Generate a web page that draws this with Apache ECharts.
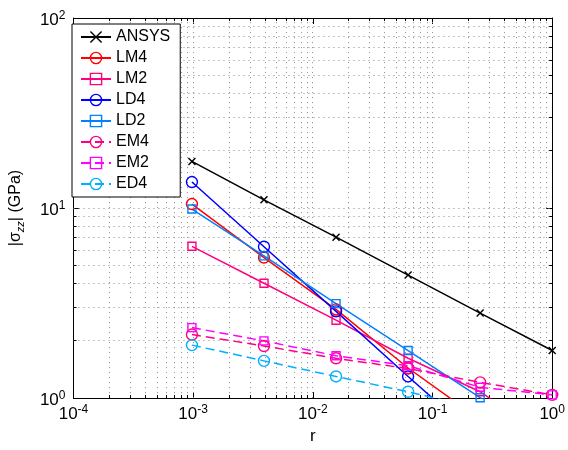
<!DOCTYPE html>
<html>
<head>
<meta charset="utf-8">
<script src="https://cdn.jsdelivr.net/npm/echarts@6/dist/echarts.min.js"></script>
<style>
  html, body { margin: 0; padding: 0; background: #fff; }
  #chart { width: 568px; height: 450px; }
</style>
</head>
<body>
<div id="chart"></div>
<script>
// Radius ratio samples and |sigma_zz| results (GPa) for each model
const r     = [1 / 1024, 1 / 256, 1 / 64, 1 / 16, 1 / 4, 1];
const ansys = [17.6, 11.05, 7.03, 4.44, 2.80, 1.78];
const lm4   = [10.5, 5.49, 2.93, 1.44, 0.77, 0.40];
const lm2   = [6.29, 4.02, 2.57, 1.62, 1.08, 0.60];
const ld4   = [13.7, 6.26, 2.86, 1.30, 0.60, 0.28];
const ld2   = [9.88, 5.60, 3.14, 1.78, 1.005, 0.55];
const em4   = [2.16, 1.88, 1.62, 1.43, 1.21, 1.04];
const em2   = [2.35, 2.00, 1.67, 1.48, 1.14, 1.04];
const ed4   = [1.90, 1.57, 1.30, 1.08, 0.88, 0.72];

// Decade exponents used for the tick labels
const xTickExponents = [-4, -3, -2, -1, 0];
const yTickExponents = [0, 1, 2];

const X_MIN = 1e-4, X_MAX = 1;
const Y_MIN = 1, Y_MAX = 100;
const FONT = '"Liberation Sans", Arial, Helvetica, sans-serif';
const GRID_COLOR = '#8c8c8c';

// Grid positions: every 1..9 x 10^k inside the axis range
function logGridValues(minExp, maxExp) {
  const out = [];
  for (let e = minExp; e < maxExp; e++) {
    for (let m = 1; m <= 9; m++) {
      if (e === minExp && m === 1) continue;
      out.push([Number((m * Math.pow(10, e)).toPrecision(6)), m === 1 ? 1 : 0]);
    }
  }
  return out;
}
const xGrid = logGridValues(xTickExponents[0], xTickExponents[xTickExponents.length - 1]);
const yGrid = logGridValues(yTickExponents[0], yTickExponents[yTickExponents.length - 1]);

function crisp(v) { return Math.round(v - 0.5) + 0.5; }

function powLabel(v) {
  const e = Math.round(Math.log10(v));
  return '{b|10}{s|' + e + '}';
}
const powRich = {
  b: { fontSize: 17, fontFamily: FONT, color: '#000', lineHeight: 17, padding: [4, 0, 0, 0] },
  s: { fontSize: 12, fontFamily: FONT, color: '#000', lineHeight: 12, verticalAlign: 'top' }
};

function xGridItem(params, api) {
  const v = api.value(0), major = api.value(2);
  const b = api.coord([v, Y_MIN]), t = api.coord([v, Y_MAX]);
  const x = crisp(b[0]);
  const children = [{
    type: 'line', silent: true,
    shape: { x1: x, y1: b[1], x2: x, y2: t[1] },
    style: { stroke: GRID_COLOR, lineWidth: 1, lineDash: [1, 4] }
  }];
  if (!major) {
    children.push({ type: 'line', silent: true, shape: { x1: x, y1: b[1], x2: x, y2: b[1] - 3 }, style: { stroke: '#000', lineWidth: 1 } });
    children.push({ type: 'line', silent: true, shape: { x1: x, y1: t[1], x2: x, y2: t[1] + 3 }, style: { stroke: '#000', lineWidth: 1 } });
  }
  return { type: 'group', children };
}

function yGridItem(params, api) {
  const v = api.value(1), major = api.value(2);
  const l = api.coord([X_MIN, v]), rr = api.coord([X_MAX, v]);
  const y = crisp(l[1]);
  const children = [{
    type: 'line', silent: true,
    shape: { x1: l[0], y1: y, x2: rr[0], y2: y },
    style: { stroke: GRID_COLOR, lineWidth: 1, lineDash: [1, 4] }
  }];
  if (!major) {
    children.push({ type: 'line', silent: true, shape: { x1: l[0], y1: y, x2: l[0] + 3, y2: y }, style: { stroke: '#000', lineWidth: 1 } });
    children.push({ type: 'line', silent: true, shape: { x1: rr[0], y1: y, x2: rr[0] - 3, y2: y }, style: { stroke: '#000', lineWidth: 1 } });
  }
  return { type: 'group', children };
}

const CROSS = 'path://M0,0L10,10M0,10L10,0';

function lineSeries(name, values, color, symbol, size, dashed) {
  return {
    name, type: 'line', xAxisIndex: 0, yAxisIndex: 0,
    data: r.map((x, i) => [x, values[i]]),
    symbol, symbolSize: size, showSymbol: true, clip: true, z: 3,
    itemStyle: { color: 'rgba(0,0,0,0)', borderColor: color, borderWidth: 1.4 },
    lineStyle: { color, width: 1.5, type: dashed ? [9, 5] : 'solid' },
    emphasis: { disabled: true },
    animation: false
  };
}

const seriesNames = ['ANSYS', 'LM4', 'LM2', 'LD4', 'LD2', 'EM4', 'EM2', 'ED4'];

const chart = echarts.init(document.getElementById('chart'), null, { renderer: 'canvas' });
chart.setOption({
  animation: false,
  backgroundColor: '#fff',
  grid: { left: 68, right: 14, top: 18, bottom: 48 },
  xAxis: [{
    type: 'log', logBase: 10, min: X_MIN, max: X_MAX,
    name: 'r', nameLocation: 'middle', nameGap: 27,
    nameTextStyle: { fontSize: 17, fontFamily: FONT, color: '#000' },
    axisLine: { show: true, onZero: false, lineStyle: { color: '#000', width: 1 } },
    axisTick: { show: true, inside: true, length: 6, lineStyle: { color: '#000' } },
    axisLabel: { show: true, margin: 6, formatter: powLabel, rich: powRich },
    splitLine: { show: false }
  }, {
    type: 'log', logBase: 10, min: X_MIN, max: X_MAX, position: 'top',
    axisLine: { show: true, onZero: false, lineStyle: { color: '#000', width: 1 } },
    axisTick: { show: true, inside: true, length: 6, lineStyle: { color: '#000' } },
    axisLabel: { show: false },
    splitLine: { show: false }
  }],
  yAxis: [{
    type: 'log', logBase: 10, min: Y_MIN, max: Y_MAX,
    name: '{a||σ}{sub|zz}{a|| (GPa)}', nameLocation: 'middle', nameGap: 40, nameRotate: 90,
    nameTextStyle: {
      fontSize: 16, fontFamily: FONT, color: '#000',
      rich: {
        a: { fontSize: 16, fontFamily: FONT, color: '#000', lineHeight: 16, padding: [0, 0, 5, 0] },
        sub: { fontSize: 11, fontFamily: FONT, fontStyle: 'italic', color: '#000', lineHeight: 11, verticalAlign: 'bottom' }
      }
    },
    axisLine: { show: true, onZero: false, lineStyle: { color: '#000', width: 1 } },
    axisTick: { show: true, inside: true, length: 6, lineStyle: { color: '#000' } },
    axisLabel: { show: true, margin: 8, formatter: powLabel, rich: powRich },
    splitLine: { show: false }
  }, {
    type: 'log', logBase: 10, min: Y_MIN, max: Y_MAX, position: 'right',
    axisLine: { show: true, onZero: false, lineStyle: { color: '#000', width: 1 } },
    axisTick: { show: true, inside: true, length: 6, lineStyle: { color: '#000' } },
    axisLabel: { show: false },
    splitLine: { show: false }
  }],
  legend: {
    data: seriesNames,
    orient: 'vertical', left: 72, top: 24,
    backgroundColor: '#fff', borderColor: '#000', borderWidth: 1, borderRadius: 0,
    padding: [5, 10, 5, 8],
    itemWidth: 30, itemHeight: 14, itemGap: 5,
    itemStyle: { borderWidth: 1.4 },
    textStyle: { fontSize: 16, fontFamily: FONT, color: '#000' },
    selectedMode: false
  },
  series: [
    {
      name: 'xgrid', type: 'custom', coordinateSystem: 'cartesian2d', xAxisIndex: 0, yAxisIndex: 0,
      data: xGrid.map(g => [g[0], Y_MIN, g[1]]), renderItem: xGridItem, silent: true, z: 1
    },
    {
      name: 'ygrid', type: 'custom', coordinateSystem: 'cartesian2d', xAxisIndex: 0, yAxisIndex: 0,
      data: yGrid.map(g => [X_MIN, g[0], g[1]]), renderItem: yGridItem, silent: true, z: 1
    },
    lineSeries('ANSYS', ansys, '#000000', CROSS, 7, false),
    lineSeries('LM4', lm4, '#ff0000', 'circle', 11, false),
    lineSeries('LM2', lm2, '#ff0080', 'rect', 8, false),
    lineSeries('LD4', ld4, '#0000ff', 'circle', 11, false),
    lineSeries('LD2', ld2, '#0080ff', 'rect', 8, false),
    lineSeries('EM4', em4, '#ff0080', 'circle', 11, true),
    lineSeries('EM2', em2, '#ff00ff', 'rect', 8, true),
    lineSeries('ED4', ed4, '#00b0ff', 'circle', 11, true)
  ]
});
</script>
</body>
</html>
